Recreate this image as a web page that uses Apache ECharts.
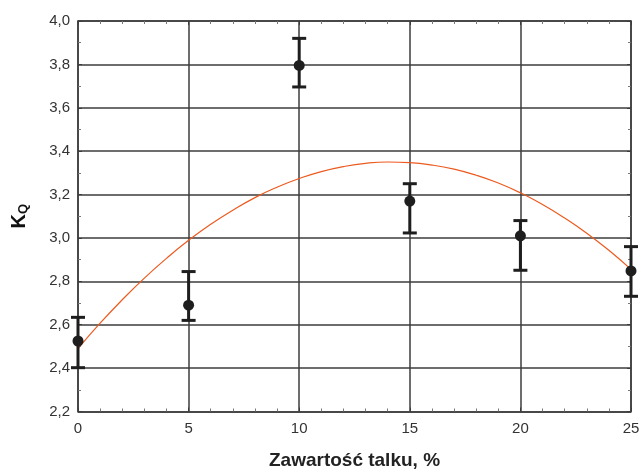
<!DOCTYPE html>
<html><head><meta charset="utf-8">
<script src="https://cdn.jsdelivr.net/npm/echarts@6/dist/echarts.min.js"></script>
<style>html,body{margin:0;padding:0;background:#fff}#c{width:641px;height:470px}</style>
</head><body><div id="c"></div>
<script>
// Data
var xValues = [0, 5, 10, 15, 20, 25];
var kqMean  = [2.525, 2.69, 3.795, 3.17, 3.01, 2.848];
var kqHigh  = [2.634, 2.845, 3.92, 3.25, 3.08, 2.96];
var kqLow   = [2.402, 2.62, 3.696, 3.023, 2.851, 2.731];
var fitX = [0,1,2,3,4,5,6,7,8,9,10,11,12,13,14,15,16,17,18,19,20,21,22,23,24,25];
var fitY = [2.490,2.607,2.715,2.815,2.906,2.989,3.063,3.128,3.186,3.234,3.274,3.306,3.329,3.344,3.350,3.347,3.336,3.317,3.289,3.253,3.208,3.154,3.092,3.022,2.943,2.855];
var xTitle = 'Zawartość talku, %';

var chart = echarts.init(document.getElementById('c'), null, {renderer:'canvas'});
var axisCol = '#3c3c3c';
function fmtY(v){ return v.toFixed(1).replace('.', ','); }

var baseAxis = {
  axisLine:{show:true, onZero:false, lineStyle:{color:axisCol, width:1.5}},
  axisTick:{show:true, inside:true, length:4, lineStyle:{color:axisCol}},
  minorTick:{show:true, length:3, lineStyle:{color:'#777'}},
  splitLine:{show:false}
};

var option = {
  animation:false,
  grid:{left:78, top:21, right:10, bottom:58.5, containLabel:false, outerBoundsMode:'none'},
  xAxis:[
    Object.assign({}, baseAxis, {type:'value', min:0, max:25, interval:5, position:'bottom',
      minorTick:{show:true, splitNumber:5, length:3, lineStyle:{color:'#777'}},
      splitLine:{show:true, lineStyle:{color:axisCol, width:1.5}},
      axisLabel:{color:'#333', fontSize:15, fontFamily:'Liberation Sans, Arial', margin:10},
      name:xTitle, nameLocation:'middle', nameGap:40,
      nameTextStyle:{fontSize:19, fontWeight:'bold', color:'#222', fontFamily:'Liberation Sans, Arial'}}),
    Object.assign({}, baseAxis, {type:'value', min:0, max:25, interval:5, position:'top',
      minorTick:{show:true, splitNumber:5, length:3, lineStyle:{color:'#777'}},
      axisLabel:{show:false}})
  ],
  yAxis:[
    Object.assign({}, baseAxis, {type:'value', min:2.2, max:4.0, interval:0.2, position:'left',
      minorTick:{show:true, splitNumber:2, length:3, lineStyle:{color:'#777'}},
      splitLine:{show:true, lineStyle:{color:axisCol, width:1.5}},
      axisLabel:{color:'#333', fontSize:15, fontFamily:'Liberation Sans, Arial', margin:8, formatter:fmtY},
      name:'{k|K}{q|Q}', nameLocation:'middle', nameGap:48, nameRotate:90,
      nameTextStyle:{rich:{
        k:{fontSize:20, fontWeight:'bold', color:'#111', fontFamily:'Liberation Sans, Arial'},
        q:{fontSize:13, fontWeight:'bold', color:'#111', fontFamily:'Liberation Sans, Arial', verticalAlign:'bottom', padding:[9,0,0,0]}
      }}}),
    Object.assign({}, baseAxis, {type:'value', min:2.2, max:4.0, interval:0.2, position:'right',
      minorTick:{show:true, splitNumber:2, length:3, lineStyle:{color:'#777'}},
      axisLabel:{show:false}})
  ],
  series:[
    {
      type:'line', smooth:true, symbol:'none', xAxisIndex:0, yAxisIndex:0,
      data: fitX.map(function(x,i){return [x, fitY[i]];}),
      lineStyle:{color:'#ec5a1e', width:1.2}, z:3
    },
    {
      type:'custom', xAxisIndex:0, yAxisIndex:0,
      data: xValues.map(function(x,i){return [x, kqLow[i], kqHigh[i]];}),
      renderItem:function(params, api){
        var x = api.value(0);
        var lo = api.coord([x, api.value(1)]);
        var hi = api.coord([x, api.value(2)]);
        var hw = 7;
        var st = {stroke:'#1e1e1e', lineWidth:3};
        return {type:'group', children:[
          {type:'line', shape:{x1:hi[0], y1:hi[1], x2:lo[0], y2:lo[1]}, style:st},
          {type:'line', shape:{x1:hi[0]-hw, y1:hi[1], x2:hi[0]+hw, y2:hi[1]}, style:st},
          {type:'line', shape:{x1:lo[0]-hw, y1:lo[1], x2:lo[0]+hw, y2:lo[1]}, style:st}
        ]};
      }, z:4
    },
    {
      type:'scatter', xAxisIndex:0, yAxisIndex:0, symbol:'circle', symbolSize:11,
      data: xValues.map(function(x,i){return [x, kqMean[i]];}),
      itemStyle:{color:'#1e1e1e', opacity:1}, z:5
    }
  ]
};
chart.setOption(option);
</script></body></html>
